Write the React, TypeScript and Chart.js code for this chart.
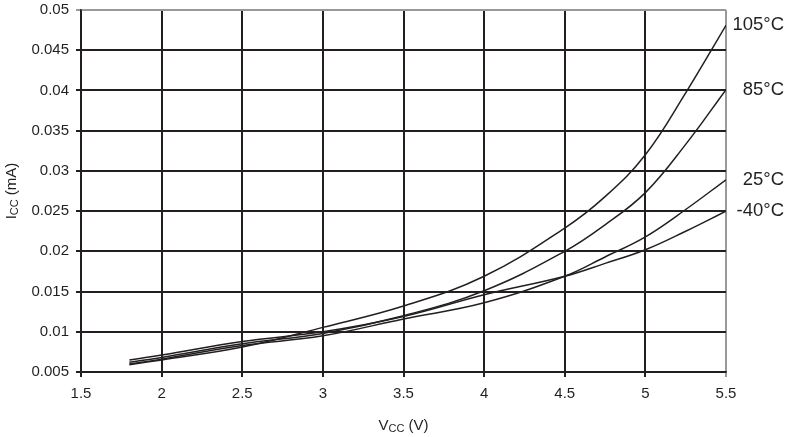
import React, { useEffect, useRef } from "react";
import { Chart, registerables } from "chart.js";

Chart.register(...registerables);

const voltages = [1.8, 2, 2.5, 3, 3.5, 4, 4.5, 4.75, 5, 5.25, 5.5];
const iccM40 = [0.0065, 0.0071, 0.0088, 0.01, 0.0119, 0.0146, 0.0169, 0.0185, 0.0202, 0.0225, 0.025];
const icc25 = [0.006, 0.0066, 0.0083, 0.0095, 0.0116, 0.0136, 0.0169, 0.0193, 0.0218, 0.0252, 0.0289];
const icc85 = [0.0062, 0.0068, 0.0085, 0.0098, 0.012, 0.0151, 0.02, 0.0233, 0.0273, 0.0333, 0.0401];
const icc105 = [0.0059, 0.0065, 0.0081, 0.01055, 0.0132, 0.0169, 0.0229, 0.0268, 0.032, 0.0397, 0.0481];
const seriesLabels = ["-40°C", "25°C", "85°C", "105°C"];
const seriesValues = [iccM40, icc25, icc85, icc105];

const INK = "#231f20";
const FONT = "'Liberation Sans', Arial, Helvetica, sans-serif";

function drawSub(ctx: CanvasRenderingContext2D, parts: [string, boolean][], x: number, y: number) {
  let total = 0;
  for (const [t, sub] of parts) {
    ctx.font = `${sub ? 11 : 15}px ${FONT}`;
    total += ctx.measureText(t).width;
  }
  let cx = x - total / 2;
  ctx.textAlign = "left";
  ctx.textBaseline = "alphabetic";
  for (const [t, sub] of parts) {
    ctx.font = `${sub ? 11 : 15}px ${FONT}`;
    ctx.fillText(t, cx, y + (sub ? 2 : 0));
    cx += ctx.measureText(t).width;
  }
}

const annotPlugin = {
  id: "annot",
  afterDraw(chart: any) {
    const ctx = chart.ctx as CanvasRenderingContext2D;
    const xs = chart.scales.x;
    const ys = chart.scales.y;
    ctx.save();
    ctx.fillStyle = INK;
    ctx.font = `18.5px ${FONT}`;
    ctx.textAlign = "right";
    ctx.textBaseline = "middle";
    seriesValues.forEach((vals, i) => {
      const y = ys.getPixelForValue(vals[vals.length - 1]);
      ctx.fillText(seriesLabels[i], 784, y);
    });
    drawSub(ctx, [["V", false], ["CC", true], [" (V)", false]], (xs.left + xs.right) / 2, 430);
    ctx.save();
    ctx.translate(16, (ys.top + ys.bottom) / 2);
    ctx.rotate(-Math.PI / 2);
    drawSub(ctx, [["I", false], ["CC", true], [" (mA)", false]], 0, 0);
    ctx.restore();
    ctx.restore();
  },
};

const fmt = (v: number) => String(Number(Number(v).toFixed(4)));

export default function App() {
  const ref = useRef<HTMLCanvasElement>(null);
  useEffect(() => {
    if (!ref.current) return;
    const chart = new Chart(ref.current, {
      type: "line",
      data: {
        datasets: seriesValues.map((vals, i) => ({
          label: seriesLabels[i],
          data: voltages.map((v, j) => ({ x: v, y: vals[j] })),
          borderColor: INK,
          borderWidth: 1.5,
          pointRadius: 0,
          fill: false,
          tension: 0.4,
        })),
      },
      options: {
        responsive: false,
        animation: false,
        layout: { padding: { top: 10, right: 60, left: 0, bottom: 0 } },
        plugins: { legend: { display: false }, tooltip: { enabled: false } },
        scales: {
          x: {
            type: "linear",
            min: 1.5,
            max: 5.5,
            afterFit: (s: any) => {
              s.height = 65;
              s.paddingLeft = 0;
              s.paddingRight = 0;
            },
            ticks: {
              stepSize: 0.5,
              color: INK,
              font: { family: FONT, size: 15 },
              padding: 8,
              maxRotation: 0,
              callback: (v: any) => fmt(v),
            },
            grid: {
              color: (c: any) => (Math.abs(c.tick?.value - 5.5) < 1e-6 ? "#999999" : INK),
              lineWidth: 2,
              tickLength: 5,
            },
            border: { color: INK, width: 1.5 },
          },
          y: {
            type: "linear",
            min: 0.005,
            max: 0.05,
            afterFit: (s: any) => {
              s.width = 81;
              s.paddingTop = 0;
              s.paddingBottom = 0;
            },
            ticks: {
              stepSize: 0.005,
              color: INK,
              font: { family: FONT, size: 15 },
              padding: 7,
              callback: (v: any) => fmt(v),
            },
            grid: {
              color: (c: any) => (Math.abs(c.tick?.value - 0.05) < 1e-6 ? "#999999" : INK),
              lineWidth: 2,
              tickLength: 5,
            },
            border: { color: INK, width: 1.5 },
          },
        },
      },
      plugins: [annotPlugin],
    });
    return () => chart.destroy();
  }, []);
  return (
    <div style={{ position: "fixed", left: 0, top: 0, width: 786, height: 437, background: "#fff" }}>
      <canvas ref={ref} width={786} height={437} style={{ width: 786, height: 437 }} />
    </div>
  );
}
